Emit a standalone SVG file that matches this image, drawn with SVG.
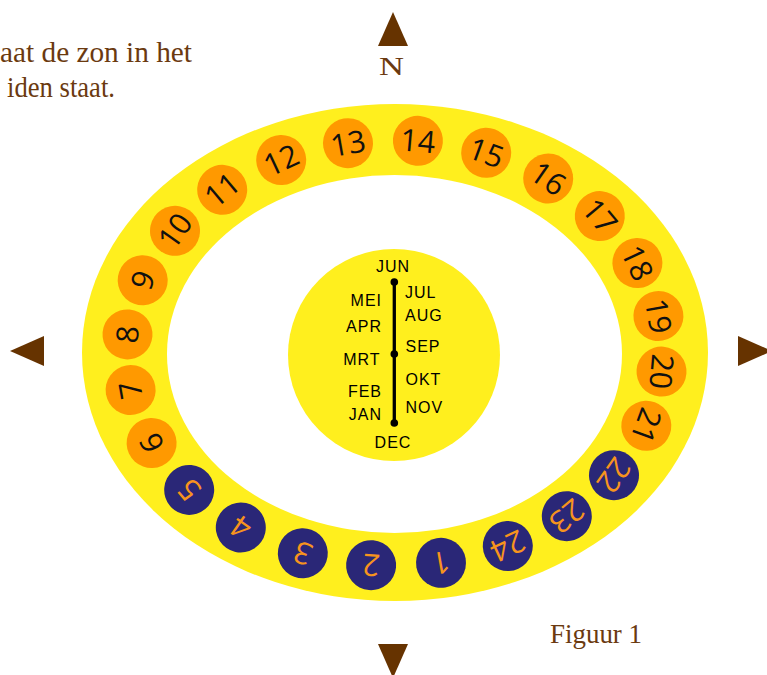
<svg xmlns="http://www.w3.org/2000/svg" width="767" height="675" viewBox="0 0 767 675">
<style>
.ser{font-family:"Liberation Serif","Times New Roman",serif;fill:#6b3a10}
.arr{fill:#663300}
.mon{font-family:"Liberation Sans",Arial,sans-serif;font-size:16px;letter-spacing:1px;fill:#000}
.num text{font-family:"Open Sans","Noto Sans",sans-serif;font-size:30.5px;text-anchor:middle}
.day circle{fill:#ff9900}
.day text{fill:#111}
.night circle{fill:#2a2777}
.night text{fill:#f7941d}
</style>
<rect width="767" height="675" fill="#fff"/>
<g id="caption">
<text class="ser" x="0" y="62" font-size="29" textLength="192" lengthAdjust="spacingAndGlyphs">aat de zon in het</text>
<text class="ser" x="7" y="97" font-size="29" textLength="108" lengthAdjust="spacingAndGlyphs">iden staat.</text>
<text class="ser" x="550" y="643" font-size="27" textLength="92" lengthAdjust="spacingAndGlyphs">Figuur 1</text>
</g>
<g id="compass">
<polygon class="arr" points="393,12 408,46 378,46"/>
<text class="ser" x="379" y="75" font-size="26" textLength="25" lengthAdjust="spacingAndGlyphs" fill="#663300">N</text>
<polygon class="arr" points="378,644 408,644 393,678"/>
<polygon class="arr" points="10,351 44,336 44,366"/>
<polygon class="arr" points="738,336 738,366 772,351"/>
</g>
<g id="ring">
<ellipse cx="395" cy="352.5" rx="313" ry="248.5" fill="#ffef1e"/>
<ellipse cx="394.5" cy="354" rx="227.5" ry="179" fill="#fff"/>
</g>
<g id="center-disc">
<circle cx="394" cy="355" r="106" fill="#ffef1e"/>
</g>
<g id="connectors">
<line x1="394.3" y1="282" x2="394.3" y2="423" stroke="#000" stroke-width="3.3"/>
<circle cx="394.3" cy="282" r="3.8"/>
<circle cx="394.3" cy="354" r="3.8"/>
<circle cx="394.3" cy="423" r="3.8"/>
</g>
<g id="months" class="mon">
<text x="393" y="272" text-anchor="middle">JUN</text>
<text x="393" y="447.5" text-anchor="middle">DEC</text>
<g text-anchor="end">
<text x="382" y="306">MEI</text>
<text x="382" y="332">APR</text>
<text x="380.5" y="364.5">MRT</text>
<text x="382" y="397">FEB</text>
<text x="382" y="420">JAN</text>
</g>
<text x="405" y="298">JUL</text>
<text x="405" y="321">AUG</text>
<text x="405.5" y="352">SEP</text>
<text x="405.5" y="384.5">OKT</text>
<text x="405.5" y="412.5">NOV</text>
</g>
<g class="num">
<g id="h14" class="day" transform="translate(417.9,140.8) rotate(5)"><circle r="25"/><text y="10.9">14</text></g>
<g id="h15" class="day" transform="translate(486.2,152.8) rotate(20)"><circle r="25"/><text y="10.9">15</text></g>
<g id="h16" class="day" transform="translate(548.2,178.5) rotate(35)"><circle r="25"/><text y="10.9">16</text></g>
<g id="h17" class="day" transform="translate(599.8,216.1) rotate(50)"><circle r="25"/><text y="10.9">17</text></g>
<g id="h18" class="day" transform="translate(637.4,263) rotate(65)"><circle r="25"/><text y="10.9">18</text></g>
<g id="h19" class="day" transform="translate(658.4,316) rotate(80)"><circle r="25"/><text y="10.9">19</text></g>
<g id="h20" class="day" transform="translate(661.5,371.6) rotate(95)"><circle r="25"/><text y="10.9">20</text></g>
<g id="h21" class="day" transform="translate(646.3,425.8) rotate(110)"><circle r="25"/><text y="10.9">21</text></g>
<g id="h22" class="night" transform="translate(614,475.2) rotate(125)"><circle r="25"/><text y="10.9">22</text></g>
<g id="h23" class="night" transform="translate(566.8,516.2) rotate(140)"><circle r="25"/><text y="10.9">23</text></g>
<g id="h24" class="night" transform="translate(507.8,546) rotate(155)"><circle r="25"/><text y="10.9">24</text></g>
<g id="h1" class="night" transform="translate(441,562.8) rotate(170)"><circle r="25"/><text y="10.9">1</text></g>
<g id="h2" class="night" transform="translate(371.1,565.2) rotate(185)"><circle r="25"/><text y="10.9">2</text></g>
<g id="h3" class="night" transform="translate(302.8,553.2) rotate(200)"><circle r="25"/><text y="10.9">3</text></g>
<g id="h4" class="night" transform="translate(240.8,527.5) rotate(215)"><circle r="25"/><text y="10.9">4</text></g>
<g id="h5" class="night" transform="translate(189.2,489.9) rotate(230)"><circle r="25"/><text y="10.9">5</text></g>
<g id="h6" class="day" transform="translate(151.6,443) rotate(245)"><circle r="25"/><text y="10.9">6</text></g>
<g id="h7" class="day" transform="translate(130.6,390) rotate(260)"><circle r="25"/><text y="10.9">7</text></g>
<g id="h8" class="day" transform="translate(127.5,334.4) rotate(275)"><circle r="25"/><text y="10.9">8</text></g>
<g id="h9" class="day" transform="translate(142.7,280.2) rotate(290)"><circle r="25"/><text y="10.9">9</text></g>
<g id="h10" class="day" transform="translate(175,230.8) rotate(305)"><circle r="25"/><text y="10.9">10</text></g>
<g id="h11" class="day" transform="translate(222.2,189.8) rotate(320)"><circle r="25"/><text y="10.9">11</text></g>
<g id="h12" class="day" transform="translate(281.2,160) rotate(335)"><circle r="25"/><text y="10.9">12</text></g>
<g id="h13" class="day" transform="translate(348,143.2) rotate(350)"><circle r="25"/><text y="10.9">13</text></g>
</g>
</svg>
